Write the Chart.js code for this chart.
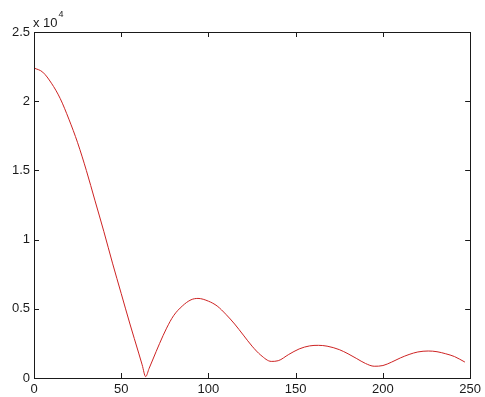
<!DOCTYPE html>
<html lang="en">
<head>
    <meta charset="UTF-8">
    <title>Response curve</title>
    <script src="https://cdn.jsdelivr.net/npm/chart.js"></script>
    <style>
        body { margin: 0; background: #fff; }
    </style>
</head>
<body>
    <canvas id="myChart" width="485" height="397"></canvas>

    <script>
        // sample positions and values (raw units, axis shows x 10^4)
        const xs = [0, 5, 10, 15, 20, 25, 30, 35, 40, 45, 50, 55, 60, 62, 64,
                    66, 68, 72, 76, 80, 85, 90, 94, 100, 105, 110, 115, 120, 125, 130, 136,
                    140, 146, 152, 158, 163, 168, 175, 180, 185, 190, 195,
                    200, 205, 210, 215, 220, 226, 231, 236, 241, 247];
        const ys = [22400, 22100, 21300, 20200, 18700, 17000, 15000, 12800, 10600, 8300, 6100, 3900, 1800, 950, 100,
                    700, 1300, 2500, 3600, 4500, 5200, 5650, 5750, 5550, 5200, 4600, 3900, 3100, 2300, 1650, 1200,
                    1250, 1700, 2100, 2320, 2360, 2300, 2050, 1750, 1400, 1050, 850,
                    900, 1150, 1450, 1700, 1880, 1950, 1900, 1750, 1550, 1150];
        const xTicks = [0, 50, 100, 150, 200, 250];
        const yTicks = [0, 5000, 10000, 15000, 20000, 25000];
        const yScaleLabel = 'x 10';
        const yScaleExp = '4';

        const font = '13px "Liberation Sans", Arial, sans-serif';

        // matlab style box with inward ticks + exponent label
        const boxPlugin = {
            id: 'box',
            afterDraw(chart) {
                const ctx = chart.ctx;
                const a = chart.chartArea;
                const x = chart.scales.x, y = chart.scales.y;
                const len = 5;
                ctx.save();
                ctx.strokeStyle = '#1a1a1a';
                ctx.lineWidth = 1;
                ctx.strokeRect(Math.round(a.left) + 0.5, Math.round(a.top) + 0.5,
                    Math.round(a.right - a.left), Math.round(a.bottom - a.top));
                ctx.beginPath();
                xTicks.forEach(v => {
                    const px = Math.round(x.getPixelForValue(v)) + 0.5;
                    ctx.moveTo(px, a.bottom); ctx.lineTo(px, a.bottom - len);
                    ctx.moveTo(px, a.top); ctx.lineTo(px, a.top + len);
                });
                yTicks.forEach(v => {
                    const py = Math.round(y.getPixelForValue(v)) + 0.5;
                    ctx.moveTo(a.left, py); ctx.lineTo(a.left + len, py);
                    ctx.moveTo(a.right, py); ctx.lineTo(a.right - len, py);
                });
                ctx.stroke();
                ctx.fillStyle = '#1a1a1a';
                ctx.textAlign = 'left';
                ctx.textBaseline = 'alphabetic';
                ctx.font = font;
                ctx.fillText(yScaleLabel, a.left - 1, a.top - 5);
                const w = ctx.measureText(yScaleLabel).width;
                ctx.font = '9px "Liberation Sans", Arial, sans-serif';
                ctx.fillText(yScaleExp, a.left - 1 + w + 1, a.top - 15);
                ctx.restore();
            }
        };

        const ctx = document.getElementById('myChart').getContext('2d');
        new Chart(ctx, {
            type: 'line',
            data: {
                datasets: [{
                    data: xs.map((v, i) => ({ x: v, y: ys[i] })),
                    borderColor: 'rgb(205, 35, 35)',
                    borderWidth: 1,
                    pointRadius: 0,
                    pointHoverRadius: 0,
                    fill: false,
                    cubicInterpolationMode: 'monotone'
                }]
            },
            options: {
                responsive: false,
                animation: false,
                layout: { padding: { top: 32, right: 12, left: 0, bottom: 0 } },
                plugins: {
                    legend: { display: false },
                    tooltip: { enabled: false }
                },
                scales: {
                    x: {
                        type: 'linear',
                        min: 0,
                        max: 250,
                        afterBuildTicks: s => { s.ticks = xTicks.map(v => ({ value: v })); },
                        afterFit: s => { s.height = 19; },
                        grid: { display: false, drawTicks: false },
                        border: { display: false },
                        ticks: {
                            padding: 4,
                            maxRotation: 0,
                            color: '#1a1a1a',
                            font: { family: '"Liberation Sans", Arial, sans-serif', size: 13 }
                        }
                    },
                    y: {
                        min: 0,
                        max: 25000,
                        afterBuildTicks: s => { s.ticks = yTicks.map(v => ({ value: v })); },
                        afterFit: s => { s.width = 34; },
                        grid: { display: false, drawTicks: false },
                        border: { display: false },
                        ticks: {
                            padding: 4,
                            color: '#1a1a1a',
                            font: { family: '"Liberation Sans", Arial, sans-serif', size: 13 },
                            callback: v => String(v / 10000)
                        }
                    }
                }
            },
            plugins: [boxPlugin]
        });
    </script>
</body>
</html>
